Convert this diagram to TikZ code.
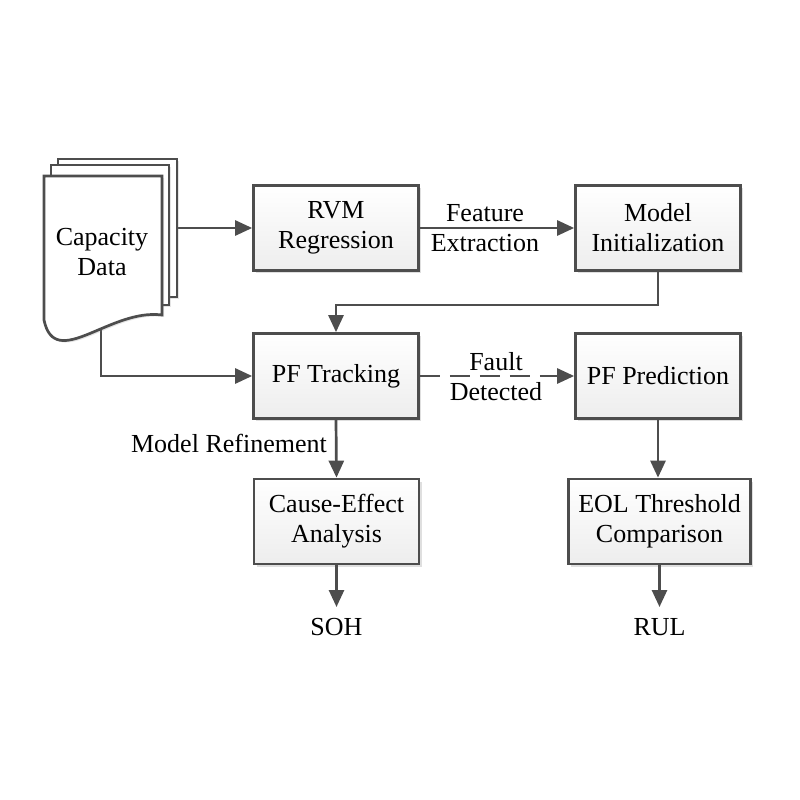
\documentclass[tikz,border=0pt]{standalone}
\usepackage{fontspec}
\setmainfont{Liberation Serif}
\usetikzlibrary{arrows.meta,shadows}
\definecolor{edge}{HTML}{4D4D4D}
\tikzset{
  box/.style={draw=edge, line width=2.7pt, top color=white, bottom color=gray!14,
    minimum width=165pt, minimum height=85pt, align=center, inner sep=0pt,
    font=\fontsize{26}{30}\selectfont,
    drop shadow={shadow xshift=2.5pt, shadow yshift=-2.5pt, opacity=0.25, fill=gray}},
  conn/.style={draw=edge, line width=2.7pt, -{Triangle[length=17pt,width=15pt]}},
  lbl/.style={align=center, inner sep=0pt, font=\fontsize{26}{30}\selectfont},
  page/.style={draw=edge, line width=2.7pt, fill=white,
    drop shadow={shadow xshift=2pt, shadow yshift=-2pt, opacity=0.2, fill=gray}},
}
\begin{document}
\begin{tikzpicture}[x=1pt,y=-1pt]
\useasboundingbox[fill=white] (0,0) rectangle (800,800);

% boxes
\node[box] (rvm) at (336,228) {RVM\\Regression};
\node[box] (mi)  at (658,228) {Model\\Initialization};
\node[box] (pft) at (336,376) {PF Tracking};
\node[box] (pfp) at (658,376) {PF Prediction};
\node[box] (ce)  at (336.5,521.5) {Cause-Effect\\Analysis};
\node[box, minimum width=182pt] (eol) at (659.5,521.5) {EOL Threshold\\Comparison};

% outputs
\node[lbl, anchor=north, text height=28pt, text depth=0pt] (soh) at (336.5,607) {SOH};
\node[lbl, anchor=north, text height=28pt, text depth=0pt] (rul) at (659.5,607) {RUL};

% document coordinates
\coordinate (docr) at (177,228);
\coordinate (docb) at (101,300);
\coordinate (pfin) at (101,376);

% connectors
\draw[conn] (docr) -- (rvm.west);
\draw[conn] (docb) -- (pfin) -- (pft.west);
\draw[conn] (rvm.east) -- (mi.west);
\draw[conn] (mi.south) -- ++(0,33) -| (pft.north);
\draw[conn, dash pattern=on 20pt off 10pt] (pft.east) -- (pfp.west);
\draw[conn] (pft.south) -- (ce.north);
\draw[conn] (pfp.south) -- (pfp.south |- eol.north);
\draw[conn] (ce.south) -- (soh.north);
\draw[conn] (eol.south) -- (rul.north);

% connector labels
\node[lbl] (fe) at (485,228) {Feature\\Extraction};
\node[lbl] (fd) at (496,377) {Fault\\Detected};
\node[lbl, anchor=east] (mr) at (327,443) {Model Refinement};

% document stack
\draw[page] (58,159) rectangle (177,297);
\draw[page] (51,165) rectangle (169,305);
\draw[page] (44,176) -- (162,176) -- (162,315)
  .. controls (110,308) and (55,372) .. (44,320) -- cycle;
\node[lbl] (cap) at (102,252) {Capacity\\Data};
\end{tikzpicture}
\end{document}
